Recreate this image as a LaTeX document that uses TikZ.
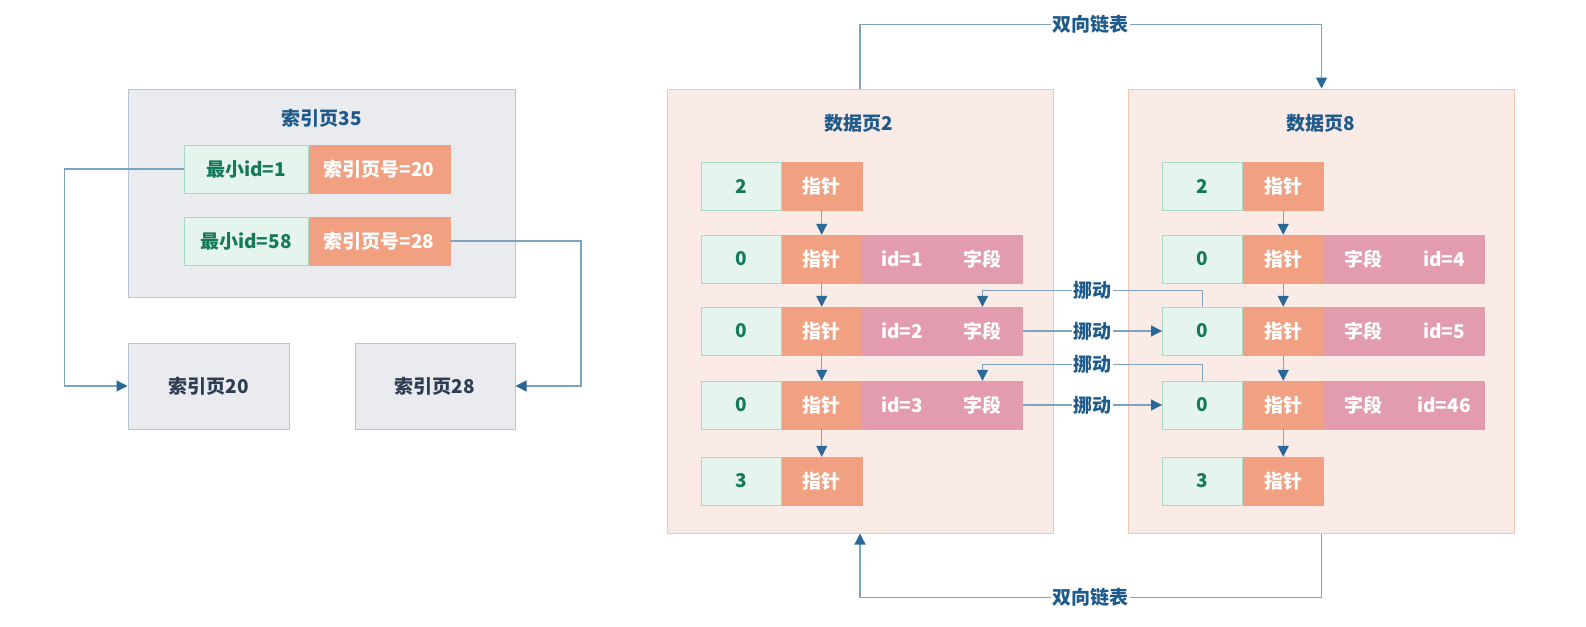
\documentclass[tikz,border=0pt]{standalone}
\usepackage{fontspec}
\newfontfamily\cjk{Noto Sans CJK SC}
\usetikzlibrary{arrows.meta,positioning}
\definecolor{pagegray}{HTML}{E9EBEF}
\definecolor{pageline}{HTML}{BAC5D3}
\definecolor{keyfill}{HTML}{E6F4EE}
\definecolor{keyline}{HTML}{A9D9C5}
\definecolor{keytext}{HTML}{157A5C}
\definecolor{ptrfill}{HTML}{F1A182}
\definecolor{fieldfill}{HTML}{E39BAE}
\definecolor{datafill}{HTML}{FBEBE6}
\definecolor{dataline}{HTML}{F2C6B3}
\definecolor{linkline}{HTML}{7EA3BF}
\definecolor{linktip}{HTML}{2A6898}
\definecolor{titleblue}{HTML}{1F5B8A}
\definecolor{pagetext}{HTML}{2E3D52}
\begin{document}
\begin{tikzpicture}[x=1pt, y=-1pt,
  >={Triangle[width=11pt,length=11pt,color=linktip]},
  every node/.style={font=\cjk\bfseries\fontsize{19}{22}\selectfont, inner sep=0pt},
  idxpage/.style={draw=pageline, fill=pagegray, line width=1pt},
  datapage/.style={draw=dataline, fill=datafill, line width=1pt,
    minimum width=386pt, minimum height=444pt},
  keycell/.style={draw=keyline, fill=keyfill, text=keytext, line width=1pt,
    minimum width=80pt, minimum height=48pt},
  ptrcell/.style={draw=ptrfill, fill=ptrfill, text=white, minimum width=80pt, minimum height=48pt},
  fieldcell/.style={draw=fieldfill, fill=fieldfill, text=white, minimum width=80pt, minimum height=48pt},
  ttl/.style={text=titleblue},
  link/.style={draw=linkline, line width=1.3pt, ->},
  lab/.style={fill=white, text=titleblue, inner sep=1.5pt}]
  \useasboundingbox (0,0) rectangle (1586,626);

  % index pages
  \node[idxpage, minimum width=387pt, minimum height=208pt] (idx35) at (321.5,193) {};
  \node[ttl] (t35) at (322,118) {索引页35};
  \node[keycell, minimum width=124pt] (min1) at (246,169) {最小id=1};
  \node[ptrcell, minimum width=141pt, right=0pt of min1] (pg20) {索引页号=20};
  \node[keycell, minimum width=124pt] (min58) at (246,241) {最小id=58};
  \node[ptrcell, minimum width=141pt, right=0pt of min58] (pg28) {索引页号=28};
  \node[idxpage, text=pagetext, minimum width=161pt, minimum height=86pt] (idx20) at (208.5,386) {索引页20};
  \node[idxpage, text=pagetext, minimum width=160pt, minimum height=86pt] (idx28) at (435,386) {索引页28};
  \draw[link] (min1.west) -- ++(-119,0) |- (idx20.west);
  \draw[link] (pg28.east) -- ++(131,0) |- (idx28.east);

  % data pages
  \node[datapage] (dp2) at (860,311) {};
  \node[datapage] (dp8) at (1321.5,311) {};
  \node[ttl] (t2) at (859,123) {数据页2};
  \node[ttl] (t8) at (1321,123) {数据页8};

  % rows of data page 2
  \node[keycell] (lk1) at (741,186) {2};
  \node[ptrcell, right=0pt of lk1] (lp1) {指针};
  \node[keycell] (lk2) at (741,259) {0};
  \node[ptrcell, right=0pt of lk2] (lp2) {指针};
  \node[fieldcell, right=0pt of lp2] (la2) {id=1};
  \node[fieldcell, right=0pt of la2] (lb2) {字段};
  \node[keycell] (lk3) at (741,331) {0};
  \node[ptrcell, right=0pt of lk3] (lp3) {指针};
  \node[fieldcell, right=0pt of lp3] (la3) {id=2};
  \node[fieldcell, right=0pt of la3] (lb3) {字段};
  \node[keycell] (lk4) at (741,405) {0};
  \node[ptrcell, right=0pt of lk4] (lp4) {指针};
  \node[fieldcell, right=0pt of lp4] (la4) {id=3};
  \node[fieldcell, right=0pt of la4] (lb4) {字段};
  \node[keycell] (lk5) at (741,481) {3};
  \node[ptrcell, right=0pt of lk5] (lp5) {指针};

  % rows of data page 8
  \node[keycell] (rk1) at (1202.5,186) {2};
  \node[ptrcell, right=0pt of rk1] (rp1) {指针};
  \node[keycell] (rk2) at (1202.5,259) {0};
  \node[ptrcell, right=0pt of rk2] (rp2) {指针};
  \node[fieldcell, right=0pt of rp2] (ra2) {字段};
  \node[fieldcell, right=0pt of ra2] (rb2) {id=4};
  \node[keycell] (rk3) at (1202.5,331) {0};
  \node[ptrcell, right=0pt of rk3] (rp3) {指针};
  \node[fieldcell, right=0pt of rp3] (ra3) {字段};
  \node[fieldcell, right=0pt of ra3] (rb3) {id=5};
  \node[keycell] (rk4) at (1202.5,405) {0};
  \node[ptrcell, right=0pt of rk4] (rp4) {指针};
  \node[fieldcell, right=0pt of rp4] (ra4) {字段};
  \node[fieldcell, right=0pt of ra4] (rb4) {id=46};
  \node[keycell] (rk5) at (1202.5,481) {3};
  \node[ptrcell, right=0pt of rk5] (rp5) {指针};

  \foreach \i/\j in {1/2,2/3,3/4,4/5} {
    \draw[link] (lp\i.south) -- (lp\j.north);
    \draw[link] (rp\i.south) -- (rp\j.north);
  }

  % moves between the pages
  \draw[link] (rk3.north) -- ++(0,-16) -| node[pos=0.25, lab] {挪动} (lb3.north);
  \draw[link] (lb3.east) -- node[lab] {挪动} (rk3.west);
  \draw[link] (rk4.north) -- ++(0,-16) -| node[pos=0.25, lab] {挪动} (lb4.north);
  \draw[link] (lb4.east) -- node[lab] {挪动} (rk4.west);

  % double linked list
  \draw[link] (dp2.north) -- ++(0,-64) -| node[pos=0.25, lab] {双向链表} (dp8.north);
  \draw[link] (dp8.south) -- ++(0,64) -| node[pos=0.25, lab] {双向链表} (dp2.south);
\end{tikzpicture}
\end{document}
